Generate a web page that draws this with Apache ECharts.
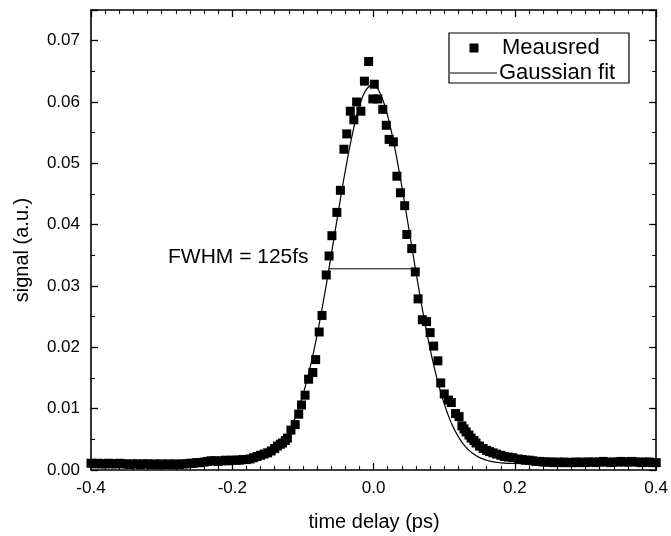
<!DOCTYPE html>
<html>
<head>
<meta charset="utf-8">
<script src="https://cdn.jsdelivr.net/npm/echarts@6/dist/echarts.min.js"></script>
<style>
html,body{margin:0;padding:0;background:#fff;}
#chart{width:671px;height:536px;}
</style>
</head>
<body>
<div id="chart"></div>
<script>
// ---- data ----
var measuredDelay = [
-0.400,-0.395,-0.390,-0.385,-0.380,-0.375,-0.370,-0.365,-0.360,-0.355,
-0.350,-0.345,-0.340,-0.335,-0.330,-0.325,-0.320,-0.315,-0.310,-0.305,
-0.300,-0.295,-0.290,-0.285,-0.280,-0.275,-0.270,-0.265,-0.260,-0.255,
-0.250,-0.245,-0.240,-0.235,-0.230,-0.225,-0.220,-0.215,-0.210,-0.205,
-0.200,-0.195,-0.190,-0.185,-0.180,-0.175,-0.170,-0.165,-0.160,-0.155,
-0.150,-0.145,-0.140,-0.136,-0.132,-0.129,-0.125,-0.122,-0.117,-0.111,
-0.106,-0.102,-0.097,-0.092,-0.086,-0.082,-0.077,-0.073,-0.067,-0.063,
-0.059,-0.052,-0.047,-0.042,-0.038,-0.033,-0.028,-0.024,-0.018,-0.013,
-0.007,-0.001,0.001,0.006,0.013,0.018,0.022,0.028,0.033,0.038,
0.044,0.047,0.054,0.059,0.063,0.069,0.075,0.080,0.085,0.091,
0.095,0.100,0.106,0.110,0.116,0.121,0.125,0.128,0.131,0.135,
0.138,0.142,0.145,0.150,0.155,0.160,0.164,0.169,0.174,0.180,
0.185,0.191,0.197,0.205,0.210,0.215,0.220,0.225,0.230,0.235,
0.240,0.245,0.250,0.255,0.260,0.265,0.270,0.275,0.280,0.285,
0.290,0.295,0.300,0.305,0.310,0.315,0.320,0.325,0.330,0.335,
0.340,0.345,0.350,0.355,0.360,0.365,0.370,0.375,0.380,0.385,
0.390,0.395,0.400
];
var measuredSignal = [
0.0011,0.0010,0.0011,0.0010,0.0010,0.0011,0.0010,0.0010,0.0011,0.0010,
0.0010,0.0009,0.0010,0.0010,0.0009,0.0010,0.0010,0.0009,0.0010,0.0009,
0.0010,0.0009,0.0010,0.0009,0.0010,0.0009,0.0010,0.0010,0.0011,0.0011,
0.0012,0.0012,0.0013,0.0014,0.0015,0.0015,0.0014,0.0015,0.0016,0.0015,
0.0016,0.0016,0.0016,0.0017,0.0017,0.0018,0.0020,0.0022,0.0024,0.0026,
0.0028,0.0031,0.0035,0.0039,0.0042,0.0044,0.0048,0.0052,0.0065,0.0074,
0.0091,0.0106,0.0122,0.0148,0.0159,0.0180,0.0225,0.0252,0.0318,0.0349,
0.0382,0.0420,0.0456,0.0523,0.0548,0.0585,0.0571,0.0600,0.0585,0.0634,
0.0666,0.0605,0.0629,0.0605,0.0588,0.0562,0.0539,0.0535,0.0479,0.0452,
0.0431,0.0384,0.0361,0.0323,0.0279,0.0245,0.0242,0.0224,0.0202,0.0178,
0.0142,0.0124,0.0114,0.0110,0.0092,0.0087,0.0072,0.0067,0.0062,0.0057,
0.0052,0.0048,0.0044,0.0039,0.0035,0.0032,0.0030,0.0028,0.0026,0.0024,
0.0022,0.0021,0.0020,0.0018,0.0017,0.0016,0.0016,0.0015,0.0014,0.0014,
0.0013,0.0013,0.0013,0.0012,0.0013,0.0012,0.0013,0.0012,0.0012,0.0013,
0.0012,0.0013,0.0012,0.0013,0.0013,0.0012,0.0013,0.0014,0.0013,0.0012,
0.0013,0.0013,0.0014,0.0013,0.0013,0.0014,0.0013,0.0013,0.0012,0.0013,
0.0013,0.0012,0.0012
];
var fitDelay = [
-0.40,-0.30,-0.25,-0.20,-0.19,-0.18,-0.17,-0.16,-0.15,-0.14,-0.13,-0.12,-0.11,
-0.10,-0.09,-0.08,-0.07,-0.06,-0.05,-0.04,-0.03,-0.02,-0.01,0.00,
0.01,0.02,0.03,0.04,0.05,0.06,0.07,0.08,0.09,0.10,0.11,0.12,0.13,
0.14,0.15,0.16,0.17,0.18,0.19,0.20,0.25,0.30,0.40
];
var fitSignal = [
0.00100,0.00100,0.00100,0.00106,0.00112,0.00122,0.00141,0.00174,0.00227,0.00311,0.00438,0.00622,0.00880,
0.01224,0.01664,0.02199,0.02820,0.03502,0.04206,0.04883,0.05477,0.05935,0.06210,0.06276,
0.06124,0.05771,0.05253,0.04619,0.03925,0.03225,0.02563,0.01974,0.01476,0.01076,0.00767,0.00541,0.00381,
0.00273,0.00202,0.00159,0.00132,0.00117,0.00109,0.00106,0.00100,0.00100,0.00100
];
var fwhmDelay = [-0.063, 0.059];
var fwhmSignal = [0.0328, 0.0328];
var xTicks = [-0.4, -0.2, 0.0, 0.2, 0.4];
var yTicks = [0.00, 0.01, 0.02, 0.03, 0.04, 0.05, 0.06, 0.07];
var seriesNames = ['Meausred', 'Gaussian fit'];
var annotationText = 'FWHM = 125fs';
var xTitle = 'time delay (ps)';
var yTitle = 'signal (a.u.)';

function zip(a, b) { return a.map(function (v, i) { return [v, b[i]]; }); }

var FONT = '"Liberation Sans", Arial, Helvetica, sans-serif';
var axisCommon = {
  type: 'value',
  axisLine: { show: true, onZero: false, lineStyle: { color: '#000', width: 1.6 } },
  axisTick: { show: true, inside: true, length: 7, lineStyle: { color: '#000', width: 1.3 } },
  minorTick: { show: true, length: 4, lineStyle: { color: '#000', width: 1.1 } },
  splitLine: { show: false },
  minorSplitLine: { show: false }
};
function ax(extra) { return Object.assign({}, JSON.parse(JSON.stringify(axisCommon)), extra); }

var chart = echarts.init(document.getElementById('chart'), null, { renderer: 'canvas' });
chart.setOption({
  animation: false,
  backgroundColor: '#fff',
  grid: { left: 91, right: 12, top: 10, bottom: 66 },
  xAxis: [
    ax({ position: 'bottom', min: xTicks[0], max: xTicks[xTicks.length - 1], interval: 0.2,
      minorTick: { show: true, splitNumber: 10, length: 4, lineStyle: { color: '#000', width: 1.1 } },
      axisLabel: { show: true, margin: 10, color: '#000', fontSize: 17, fontFamily: FONT,
        formatter: function (v) { return (Math.abs(v) < 1e-9 ? 0 : v).toFixed(1); } } }),
    ax({ position: 'top', min: xTicks[0], max: xTicks[xTicks.length - 1], interval: 0.2,
      minorTick: { show: true, splitNumber: 10, length: 4, lineStyle: { color: '#000', width: 1.1 } },
      axisLabel: { show: false } })
  ],
  yAxis: [
    ax({ position: 'left', min: yTicks[0], max: 0.075, interval: 0.01,
      minorTick: { show: true, splitNumber: 2, length: 4, lineStyle: { color: '#000', width: 1.1 } },
      axisLabel: { show: true, margin: 11, color: '#000', fontSize: 17, fontFamily: FONT, showMaxLabel: false,
        formatter: function (v) { return v.toFixed(2); } } }),
    ax({ position: 'right', min: yTicks[0], max: 0.075, interval: 0.01,
      minorTick: { show: true, splitNumber: 2, length: 4, lineStyle: { color: '#000', width: 1.1 } },
      axisLabel: { show: false } })
  ],
  series: [
    { name: seriesNames[0], type: 'scatter', data: zip(measuredDelay, measuredSignal),
      symbol: 'rect', symbolSize: 9, itemStyle: { color: '#000', opacity: 1 }, z: 2 },
    { name: seriesNames[1], type: 'line', data: zip(fitDelay, fitSignal), smooth: 0.4,
      showSymbol: false, lineStyle: { color: '#000', width: 1.2 }, z: 3 },
    { name: 'FWHM', type: 'line', data: zip(fwhmDelay, fwhmSignal), showSymbol: false,
      lineStyle: { color: '#000', width: 1 }, z: 3 }
  ],
  graphic: [
    { type: 'text', left: 168, top: 247, style: { text: annotationText, font: '21px ' + FONT, fill: '#000' } },
    { type: 'text', x: 374, y: 522, style: { text: xTitle, font: '20px ' + FONT, fill: '#000', align: 'center', verticalAlign: 'middle' } },
    { type: 'text', x: 22, y: 250, rotation: Math.PI / 2, style: { text: yTitle, font: '20px ' + FONT, fill: '#000', align: 'center', verticalAlign: 'middle' } },
    { type: 'rect', shape: { x: 449, y: 33, width: 180, height: 50 }, style: { fill: '#fff', stroke: '#000', lineWidth: 1.2 }, z: 10 },
    { type: 'rect', shape: { x: 469.5, y: 43.5, width: 9, height: 9 }, style: { fill: '#000' }, z: 11 },
    { type: 'text', x: 502, y: 48, style: { text: seriesNames[0], font: '22px ' + FONT, fill: '#000', verticalAlign: 'middle' }, z: 11 },
    { type: 'line', shape: { x1: 450, y1: 73, x2: 497, y2: 73 }, style: { stroke: '#000', lineWidth: 1 }, z: 11 },
    { type: 'text', x: 499, y: 73, style: { text: seriesNames[1], font: '22px ' + FONT, fill: '#000', verticalAlign: 'middle' }, z: 11 }
  ]
});
</script>
</body>
</html>
